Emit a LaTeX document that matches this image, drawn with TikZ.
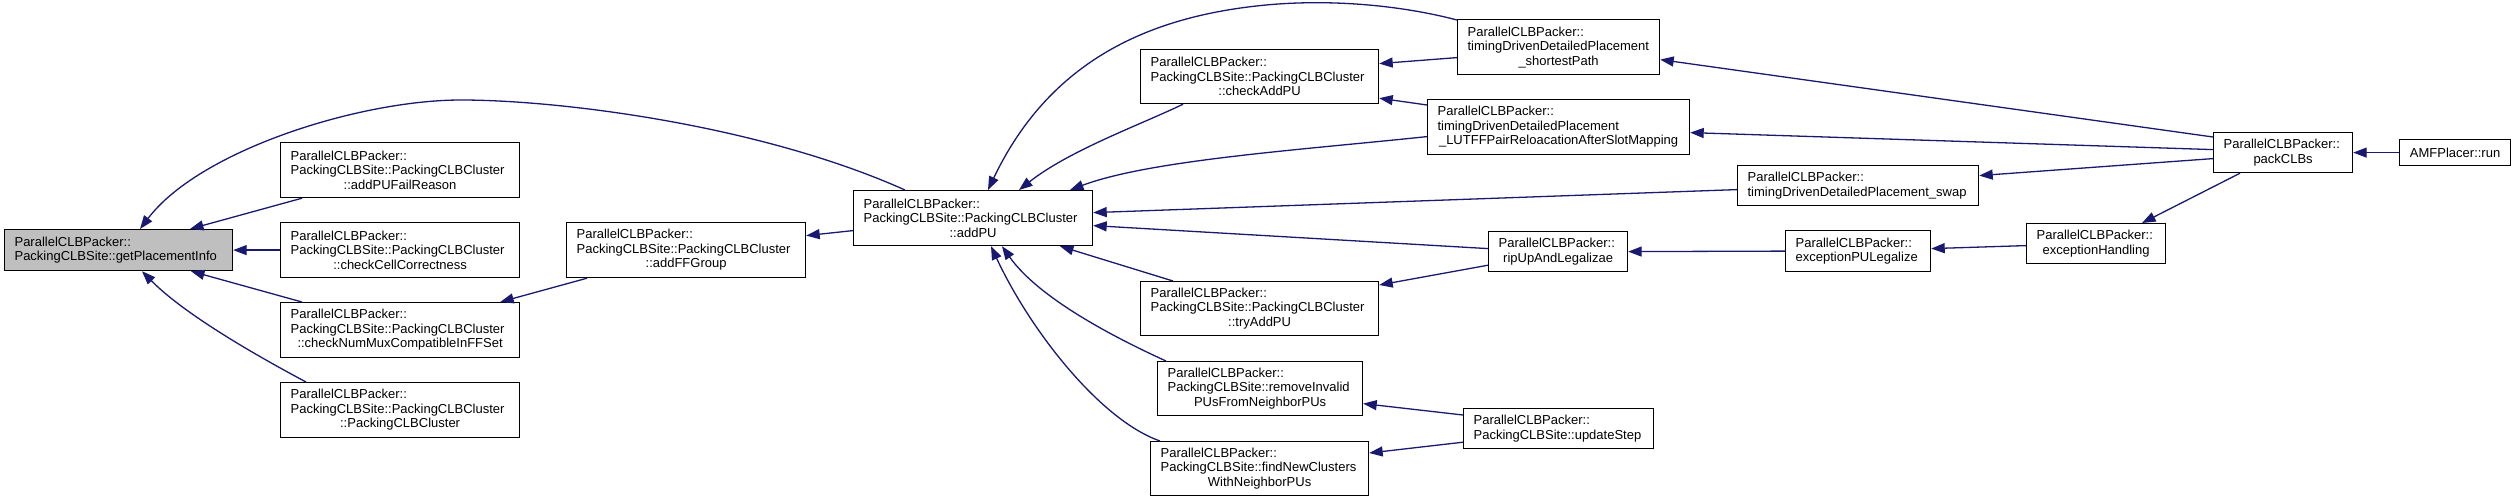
\documentclass[tikz,border=0pt]{standalone}
\usepackage{fontspec}
\setmainfont{Liberation Sans}
\usetikzlibrary{arrows.meta,calc}
\definecolor{mnb}{HTML}{191970}
\definecolor{grey75}{HTML}{BFBFBF}
\newcommand\cl[1]{\makebox[\linewidth]{#1}}
\newcommand\dnode[7][]{\node[dbox,#1,minimum width=#5pt,minimum height=#6pt,text width=#5pt-20pt,anchor=north west] (#2) at (#3,#4) {#7};}
\begin{document}
\begin{tikzpicture}[x=1pt,y=-1pt,
  dbox/.style={draw=black,line width=1.2pt,fill=white,inner xsep=10pt,inner ysep=2pt,align=left,font=\fontsize{13}{14.5}\selectfont},
  edge/.style={draw=mnb,line width=1.3pt,-{Triangle[length=13.5pt,width=10pt,fill=mnb]}}]
\useasboundingbox[fill=white] (0,0) rectangle (2516,501);
% nodes
\dnode[fill=grey75]{gpi}{4}{229}{228}{41}{ParallelCLBPacker::\\PackingCLBSite::getPlacementInfo}
\dnode{fail}{280}{142}{239}{55}{ParallelCLBPacker::\\PackingCLBSite::PackingCLBCluster\\\cl{::addPUFailReason}}
\dnode{cell}{280}{222}{239}{55}{ParallelCLBPacker::\\PackingCLBSite::PackingCLBCluster\\\cl{::checkCellCorrectness}}
\dnode{mux}{280}{302}{239}{55}{ParallelCLBPacker::\\PackingCLBSite::PackingCLBCluster\\\cl{::checkNumMuxCompatibleInFFSet}}
\dnode{ctor}{280}{382}{239}{55}{ParallelCLBPacker::\\PackingCLBSite::PackingCLBCluster\\\cl{::PackingCLBCluster}}
\dnode{ffg}{566}{222}{239}{55}{ParallelCLBPacker::\\PackingCLBSite::PackingCLBCluster\\\cl{::addFFGroup}}
\dnode{addpu}{853}{190}{239}{55}{ParallelCLBPacker::\\PackingCLBSite::PackingCLBCluster\\\cl{::addPU}}
\dnode{chk}{1140}{49}{238}{54}{ParallelCLBPacker::\\PackingCLBSite::PackingCLBCluster\\\cl{::checkAddPU}}
\dnode{try}{1140}{281}{238}{54}{ParallelCLBPacker::\\PackingCLBSite::PackingCLBCluster\\\cl{::tryAddPU}}
\dnode{rem}{1157}{361}{205}{54}{ParallelCLBPacker::\\PackingCLBSite::removeInvalid\\\cl{PUsFromNeighborPUs}}
\dnode{fnc}{1150}{441}{218}{54}{ParallelCLBPacker::\\PackingCLBSite::findNewClusters\\\cl{WithNeighborPUs}}
\dnode{sp}{1457}{19}{202}{55}{ParallelCLBPacker::\\timingDrivenDetailedPlacement\\\cl{\_shortestPath}}
\dnode{lut}{1427}{99}{262}{55}{ParallelCLBPacker::\\timingDrivenDetailedPlacement\\\cl{\_LUTFFPairReloacationAfterSlotMapping}}
\dnode{rip}{1488}{231}{139}{40}{ParallelCLBPacker::\\\cl{ripUpAndLegalizae}}
\dnode{upd}{1463}{408}{190}{40}{ParallelCLBPacker::\\PackingCLBSite::updateStep}
\dnode{swap}{1737}{165}{241}{40}{ParallelCLBPacker::\\timingDrivenDetailedPlacement\_swap}
\dnode{epl}{1785}{230}{145}{41}{ParallelCLBPacker::\\exceptionPULegalize}
\dnode{eh}{2026}{223}{139}{40}{ParallelCLBPacker::\\\cl{exceptionHandling}}
\dnode{pack}{2213}{132}{139}{40}{ParallelCLBPacker::\\\cl{packCLBs}}
\dnode{run}{2399}{139}{111}{26}{\cl{AMFPlacer::run}}
% edges
\draw[edge] ($(fail.south west)+(22,0)$) -- ($(gpi.north west)+(186,0)$);
\draw[edge] (cell.west) -- (gpi.east);
\draw[edge] ($(mux.north west)+(22,0)$) -- ($(gpi.south west)+(187,0)$);
\draw[edge] ($(ctor.north west)+(26,0)$) .. controls (280,368) and (190,320) .. ($(gpi.south west)+(138,0)$);
\draw[edge] ($(addpu.north west)+(52,0)$) .. controls (760,125) and (560,100) .. (461,100) .. controls (360,100) and (200,150) .. ($(gpi.north west)+(136,0)$);
\draw[edge] ($(ffg.south west)+(21,0)$) -- ($(mux.north east)+(-20,0)$);
\draw[edge] ($(addpu.west)+(0,12.5)$) -- ($(ffg.east)+(0,-14.5)$);
\draw[edge] ($(chk.south west)+(43,0)$) .. controls (1140,125) and (1070,150) .. ($(addpu.north west)+(166,0)$);
\draw[edge] ($(sp.north west)+(0,1)$) .. controls (1400,5) and (1330,-1) .. (1266,5) .. controls (1150,16) and (1050,60) .. ($(addpu.north west)+(135,0)$);
\draw[edge] ($(lut.west)+(0,9.5)$) .. controls (1300,150) and (1150,160) .. ($(addpu.north west)+(217,0)$);
\draw[edge] ($(swap.west)+(0,4)$) -- ($(addpu.east)+(0,-5.5)$);
\draw[edge] ($(rip.west)+(0,-3)$) -- ($(addpu.east)+(0,7.5)$);
\draw[edge] ($(try.north west)+(33,0)$) -- ($(addpu.south west)+(207,0)$);
\draw[edge] ($(rem.north west)+(9,0)$) .. controls (1120,340) and (1040,300) .. ($(addpu.south west)+(149,0)$);
\draw[edge] ($(fnc.north west)+(10,0)$) .. controls (1100,420) and (1030,330) .. ($(addpu.south west)+(138,0)$);
\draw[edge] ($(sp.west)+(0,10.5)$) -- ($(chk.east)+(0,-13)$);
\draw[edge] ($(lut.north west)+(0,6)$) -- ($(chk.south east)+(0,-6)$);
\draw[edge] ($(rip.south west)+(0,-7)$) -- ($(try.north east)+(0,4)$);
\draw[edge] ($(upd.north west)+(0,7)$) -- ($(rem.east)+(0,15)$);
\draw[edge] ($(upd.south west)+(0,-7)$) -- ($(fnc.north east)+(0,12)$);
\draw[edge] ($(pack.north west)+(0,5)$) -- ($(sp.east)+(0,12.5)$);
\draw[edge] ($(pack.west)+(0,-3)$) -- ($(lut.east)+(0,5.5)$);
\draw[edge] ($(pack.west)+(0,6)$) -- ($(swap.east)+(0,-10)$);
\draw[edge] (epl.west) -- (rip.east);
\draw[edge] ($(eh.west)+(0,2)$) -- ($(epl.east)+(0,-2.5)$);
\draw[edge] ($(pack.south west)+(27,0)$) -- ($(eh.north west)+(116,0)$);
\draw[edge] (run.west) -- (pack.east);
\end{tikzpicture}
\end{document}
